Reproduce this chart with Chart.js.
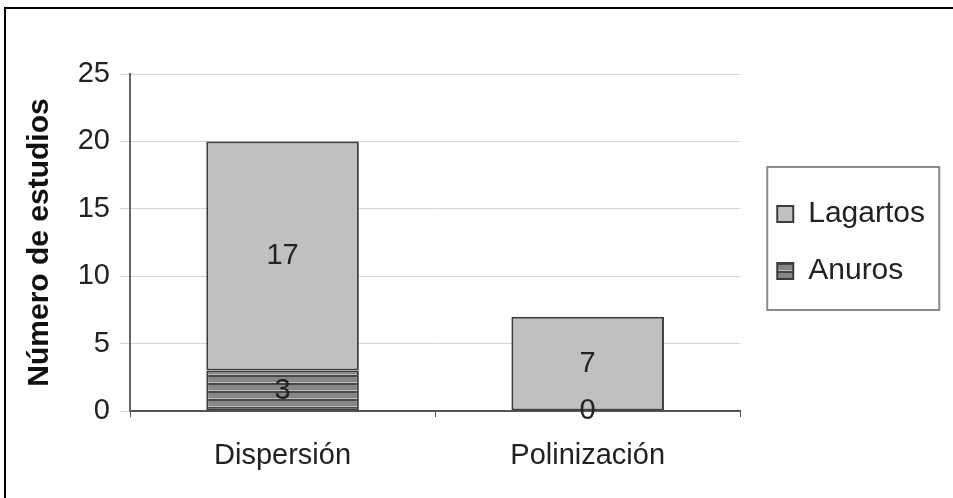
<!DOCTYPE html>
<html>
<head>
<meta charset="utf-8">
<script src="https://cdn.jsdelivr.net/npm/chart.js@4.4.1/dist/chart.umd.min.js"></script>
<style>
  html, body { margin: 0; padding: 0; background: #fff; }
  #wrap { width: 953px; height: 498px; }
</style>
</head>
<body>
<div id="wrap"><canvas id="chart" width="953" height="498"></canvas></div>
<script>
const categories = ['Dispersión', 'Polinización'];
const anuros = [3, 0];
const lagartos = [17, 7];
const yTicks = [0, 5, 10, 15, 20, 25];

const fontFamily = '"Liberation Sans", Arial, sans-serif';

// horizontal stripe fill for Anuros
function stripePattern() {
    const c = document.createElement('canvas');
    c.width = 8;
    c.height = 8;
    const p = c.getContext('2d');
    p.fillStyle = '#868686';
    p.fillRect(0, 0, 8, 8);
    p.fillStyle = '#474747';
    p.fillRect(0, 0, 8, 1);
    p.fillRect(0, 7, 8, 1);
    p.fillStyle = '#bcbcbc';
    p.fillRect(0, 6, 8, 1);
    return p.createPattern(c, 'repeat');
}

const framePlugin = {
    id: 'frame',
    beforeDraw(chart) {
        const ctx = chart.ctx;
        ctx.save();
        ctx.fillStyle = '#fff';
        ctx.fillRect(0, 0, chart.width, chart.height);
        ctx.strokeStyle = '#000';
        ctx.lineWidth = 2;
        ctx.beginPath();
        ctx.moveTo(5, chart.height);
        ctx.lineTo(5, 8);
        ctx.lineTo(chart.width, 8);
        ctx.stroke();
        ctx.restore();
    }
};

const valueLabels = {
    id: 'valueLabels',
    afterDatasetsDraw(chart) {
        const ctx = chart.ctx;
        ctx.save();
        ctx.font = '29px ' + fontFamily;
        ctx.fillStyle = '#222';
        ctx.textAlign = 'center';
        ctx.textBaseline = 'middle';
        chart.data.datasets.forEach((ds, i) => {
            chart.getDatasetMeta(i).data.forEach((bar, j) => {
                const y = (bar.y + bar.base) / 2;
                ctx.fillText(String(ds.data[j]), bar.x, y);
            });
        });
        ctx.restore();
    }
};

const legendBorder = {
    id: 'legendBorder',
    afterDraw(chart) {
        const boxes = chart.legend.legendHitBoxes;
        if (!boxes || !boxes.length) return;
        const first = boxes[0];
        const last = boxes[boxes.length - 1];
        const ctx = chart.ctx;
        ctx.save();
        ctx.strokeStyle = '#8a8a8a';
        ctx.lineWidth = 2;
        const left = first.left - 10;
        const top = first.top - 32;
        const bottom = last.top + last.height + 24;
        ctx.strokeRect(left, top, 172, bottom - top);
        ctx.restore();
    }
};

const ctx = document.getElementById('chart').getContext('2d');
const chart = new Chart(ctx, {
    type: 'bar',
    data: {
        labels: categories,
        datasets: [{
            label: 'Anuros',
            data: anuros,
            backgroundColor: stripePattern(),
            borderColor: '#3c3c3c',
            borderWidth: 2,
            borderSkipped: false
        }, {
            label: 'Lagartos',
            data: lagartos,
            backgroundColor: '#c0c0c0',
            borderColor: '#3c3c3c',
            borderWidth: 2,
            borderSkipped: false
        }]
    },
    options: {
        responsive: false,
        animation: false,
        categoryPercentage: 1,
        barPercentage: 0.5,
        layout: {
            padding: { left: 10, right: 18, top: 74, bottom: 27 }
        },
        plugins: {
            title: { display: false },
            tooltip: { enabled: false },
            legend: {
                position: 'right',
                fullSize: false,
                reverse: true,
                maxWidth: 400,
                labels: {
                    font: { family: fontFamily, size: 30 },
                    color: '#222',
                    boxWidth: 16,
                    boxHeight: 16,
                    padding: 27
                }
            }
        },
        scales: {
            x: {
                stacked: true,
                grid: {
                    display: true,
                    drawOnChartArea: false,
                    drawTicks: true,
                    tickLength: 6,
                    color: '#555'
                },
                border: { display: true, color: '#555', width: 2 },
                ticks: {
                    font: { family: fontFamily, size: 29 },
                    color: '#222',
                    padding: 22
                },
                afterFit(s) { s.height = 60; }
            },
            y: {
                stacked: true,
                min: 0,
                max: 25,
                afterBuildTicks(s) { s.ticks = yTicks.map(v => ({ value: v })); },
                grid: {
                    color: '#d4d4d4',
                    lineWidth: 1,
                    tickLength: 10
                },
                border: { display: true, color: '#666', width: 2 },
                ticks: {
                    font: { family: fontFamily, size: 29 },
                    color: '#222',
                    padding: 10
                },
                title: {
                    display: true,
                    text: 'Número de estudios',
                    font: { family: fontFamily, size: 30, weight: 'bold' },
                    color: '#111',
                    padding: { top: 12, bottom: 0 }
                },
                afterFit(s) { s.width = 120; }
            },
            spacer: {
                type: 'linear',
                position: 'right',
                display: true,
                grid: { display: false },
                border: { display: false },
                ticks: { display: false },
                afterFit(s) { s.width = 10; }
            }
        }
    },
    plugins: [framePlugin, valueLabels, legendBorder]
});
</script>
</body>
</html>
